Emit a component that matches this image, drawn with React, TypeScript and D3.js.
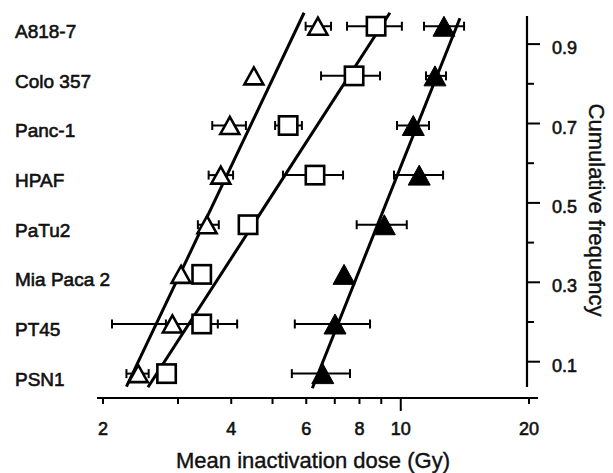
import React from "react";
import * as d3 from "d3";

const cellLines = ["A818-7", "Colo 357", "Panc-1", "HPAF", "PaTu2", "Mia Paca 2", "PT45", "PSN1"];
const cumFreq = [0.945, 0.82, 0.695, 0.57, 0.445, 0.32, 0.195, 0.07];

// open triangles
const triMean = [6.39, 4.52, 3.97, 3.78, 3.51, 3.05, 2.91, 2.42];
const triLow = [5.98, null, 3.61, 3.54, 3.34, null, 2.1, 2.27];
const triHigh = [6.86, null, 4.33, 4.04, 3.74, null, 3.72, 2.56];

// open squares
const sqMean = [8.75, 7.77, 5.44, 6.29, 4.38, 3.41, 3.41, 2.82];
const sqLow = [7.48, 6.5, 5.07, 5.29, null, null, 2.81, null];
const sqHigh = [10.06, 8.94, 5.86, 7.32, null, null, 4.13, null];

// filled triangles
const ftMean = [12.63, 12.03, 10.7, 11.05, 9.15, 7.36, 7.01, 6.56];
const ftLow = [11.34, 11.46, 9.8, 9.64, 7.88, null, 5.64, 5.55];
const ftHigh = [14.08, 12.77, 11.65, 12.57, 10.33, null, 8.47, 7.6];

// regression lines: [dose, freq] endpoints
const triFit = [[2.27, 0.037], [5.93, 0.979]];
const sqFit = [[2.55, 0.0355], [9.43, 0.979]];
const ftFit = [[6.2, 0.0332], [13.77, 0.965]];

const xTickValues = [2, 3, 4, 5, 6, 7, 8, 9, 10, 20];
const xTickLabels = ["2", "", "4", "", "6", "", "8", "", "10", "20"];
const yTickValues = [0.1, 0.2, 0.3, 0.4, 0.5, 0.6, 0.7, 0.8, 0.9];
const yTickLabels = ["0.1", "", "0.3", "", "0.5", "", "0.7", "", "0.9"];

const W = 613;
const H = 473;
const FONT = "'Liberation Sans', Arial, Helvetica, sans-serif";

export default function App() {
  const x = d3.scaleLog().domain([2, 20]).range([103, 529]);
  const y = d3.scaleLinear().domain([0, 1]).range([401.4, 4.4]);
  const line = d3
    .line<number[]>()
    .x((d) => x(d[0]))
    .y((d) => y(d[1]));

  const axisY = 398;
  const rightX = 527;

  const errBar = (lo: number | null, hi: number | null, f: number, key: string) => {
    if (lo == null || hi == null) return null;
    const yy = y(f);
    return (
      <g key={key} stroke="#000" strokeWidth={2}>
        <line x1={x(lo)} x2={x(hi)} y1={yy} y2={yy} />
        <line x1={x(lo)} x2={x(lo)} y1={yy - 4.5} y2={yy + 4.5} />
        <line x1={x(hi)} x2={x(hi)} y1={yy - 4.5} y2={yy + 4.5} />
      </g>
    );
  };

  const tri = (cx: number, cy: number, h: number, w: number) =>
    `M${cx},${cy - h / 2} L${cx + w / 2},${cy + h / 2} L${cx - w / 2},${cy + h / 2} Z`;

  return (
    <svg width={W} height={H} style={{ position: "absolute", left: 0, top: 0, background: "#fff" }}>
      <rect width={W} height={H} fill="#fff" />
      {/* row labels */}
      {cellLines.map((c, i) => (
        <text
          key={c}
          x={15}
          y={y(cumFreq[i]) + 12}
          fontFamily={FONT}
          fontSize={19}
          fill="#111"
          stroke="#111"
          strokeWidth={0.6}
        >
          {c}
        </text>
      ))}

      {/* error bars */}
      {cellLines.map((c, i) => errBar(triLow[i], triHigh[i], cumFreq[i], "te" + i))}
      {cellLines.map((c, i) => errBar(sqLow[i], sqHigh[i], cumFreq[i], "se" + i))}
      {cellLines.map((c, i) => errBar(ftLow[i], ftHigh[i], cumFreq[i], "fe" + i))}

      {/* regression lines */}
      <path d={line(triFit as number[][]) || ""} stroke="#000" strokeWidth={3} fill="none" />
      <path d={line(sqFit as number[][]) || ""} stroke="#000" strokeWidth={3} fill="none" />
      <path d={line(ftFit as number[][]) || ""} stroke="#000" strokeWidth={3} fill="none" />

      {/* markers */}
      {triMean.map((v, i) => (
        <path key={"t" + i} d={tri(x(v), y(cumFreq[i]), 17, 19)} fill="#fff" stroke="#000" strokeWidth={2.6} strokeLinejoin="miter" />
      ))}
      {sqMean.map((v, i) => (
        <rect key={"s" + i} x={x(v) - 9.2} y={y(cumFreq[i]) - 9.2} width={18.4} height={18.4} fill="#fff" stroke="#000" strokeWidth={2.6} />
      ))}
      {ftMean.map((v, i) => (
        <path key={"f" + i} d={tri(x(v), y(cumFreq[i]), 20, 22)} fill="#000" stroke="#000" strokeWidth={1} />
      ))}

      {/* x axis */}
      <line x1={97} x2={538} y1={axisY} y2={axisY} stroke="#000" strokeWidth={2.2} />
      {xTickValues.map((v, i) => (
        <g key={"xt" + i}>
          <line x1={x(v)} x2={x(v)} y1={axisY} y2={axisY + (v === 10 ? 13 : 6)} stroke="#000" strokeWidth={2} />
          {xTickLabels[i] && (
            <text x={x(v)} y={435} textAnchor="middle" fontFamily={FONT} fontSize={18} fill="#111" stroke="#111" strokeWidth={0.6}>
              {xTickLabels[i]}
            </text>
          )}
        </g>
      ))}
      <text x={313} y={468} textAnchor="middle" fontFamily={FONT} fontSize={22} fill="#111" stroke="#111" strokeWidth={0.4}>
        Mean inactivation dose (Gy)
      </text>

      {/* right axis */}
      <line x1={rightX} x2={rightX} y1={16} y2={387} stroke="#000" strokeWidth={2.2} />
      {yTickValues.map((v, i) => (
        <g key={"yt" + i}>
          <line x1={rightX} x2={rightX + (yTickLabels[i] ? 13 : 7)} y1={y(v)} y2={y(v)} stroke="#000" strokeWidth={2} />
          {yTickLabels[i] && (
            <text x={552} y={y(v) + 10} fontFamily={FONT} fontSize={18} fill="#111" stroke="#111" strokeWidth={0.6}>
              {yTickLabels[i]}
            </text>
          )}
        </g>
      ))}
      <text
        transform={`translate(589,210) rotate(90)`}
        textAnchor="middle"
        fontFamily={FONT}
        fontSize={22}
        fill="#111"
        stroke="#111"
        strokeWidth={0.4}
      >
        Cumulative frequency
      </text>
    </svg>
  );
}
